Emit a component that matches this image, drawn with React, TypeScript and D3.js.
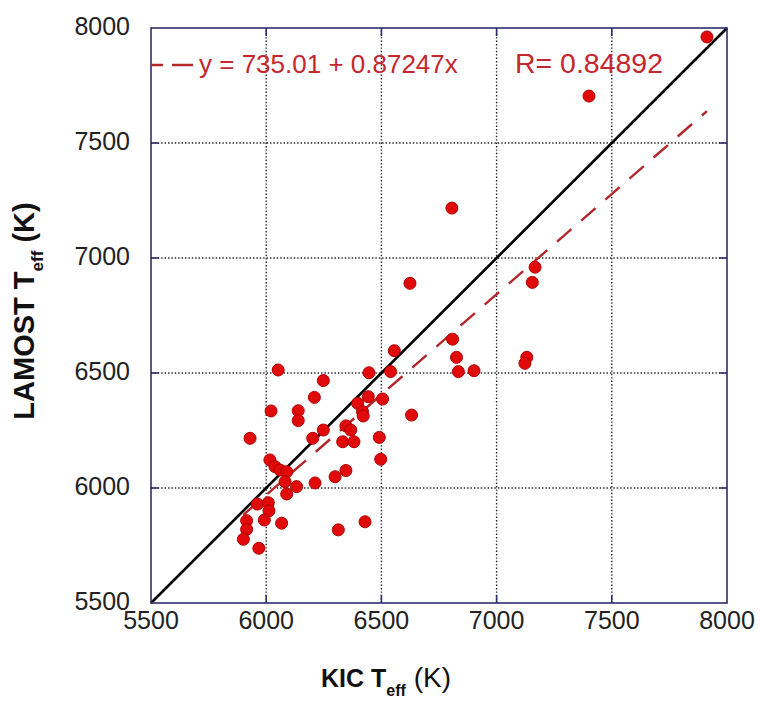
import React from 'react';
import * as d3 from 'd3';

// KIC Teff (x) and LAMOST Teff (y) for each star
const kicTeff = [
  7913, 7401, 6806, 7167, 7155, 6624, 6809, 6826, 6834, 6902, 7131, 7123,
  6556, 6446, 6540, 6052, 6248, 6209, 6443, 6505, 6397, 6418, 6421, 6631,
  6021, 6139, 6139, 6346, 6367, 6248, 6202, 5930, 6332, 6381, 6491, 6497,
  6016, 6038, 6060, 6089, 6346, 6299, 6082, 6132, 6212, 6089, 5962, 6009,
  6012, 5992, 6067, 5915, 5915, 5901, 5968, 6313, 6429,
];
const lamostTeff = [
  7961, 7704, 7217, 6960, 6894, 6890, 6647, 6568, 6506, 6510, 6568, 6542,
  6597, 6501, 6506, 6513, 6467, 6394, 6397, 6387, 6368, 6332, 6313, 6317,
  6335, 6336, 6293, 6270, 6252, 6252, 6216, 6216, 6201, 6201, 6220, 6125,
  6122, 6093, 6078, 6071, 6076, 6049, 6027, 6006, 6022, 5974, 5930, 5936,
  5901, 5861, 5847, 5858, 5820, 5777, 5738, 5818, 5853,
];

const xTicks = [5500, 6000, 6500, 7000, 7500, 8000];
const yTicks = [5500, 6000, 6500, 7000, 7500, 8000];
const axisDomain = [5500, 8000];

const fitIntercept = 735.01;
const fitSlope = 0.87247;
const fitR = 0.84892;

const FONT = '"Liberation Sans", Arial, Helvetica, sans-serif';
const FRAME = '#2e2e6e';
const FIT_COLOR = '#b3262a';
const TEXT_RED = '#c4262e';

export default function App() {
  const W = 760;
  const H = 706;
  const x = d3.scaleLinear().domain(axisDomain).range([151, 727]);
  const y = d3.scaleLinear().domain(axisDomain).range([603, 28]);
  const [x0, x1] = x.range();
  const [y0, y1] = y.range();

  const points = kicTeff.map((k, i) => ({ k, l: lamostTeff[i] }));
  const fitXMin = d3.min(kicTeff) as number;
  const fitXMax = d3.max(kicTeff) as number;
  const fit = (v: number) => fitIntercept + fitSlope * v;
  const lineGen = d3.line<[number, number]>().x(d => x(d[0])).y(d => y(d[1]));
  const fitPath = lineGen([[fitXMin, fit(fitXMin)], [fitXMax, fit(fitXMax)]]) as string;
  const idPath = lineGen([[axisDomain[0], axisDomain[0]], [axisDomain[1], axisDomain[1]]]) as string;

  const tickLen = 8;

  return (
    <svg width={W} height={H} style={{ position: 'absolute', left: 0, top: 0, background: '#fff' }}
      fontFamily={FONT}>
      <rect x={0} y={0} width={W} height={H} fill="#fff" />
      {/* grid */}
      <g stroke="#222" strokeWidth={1.4} strokeDasharray="1.4,2">
        {xTicks.slice(1, -1).map(t => (
          <line key={'gx' + t} x1={x(t)} x2={x(t)} y1={y0} y2={y1} />
        ))}
        {yTicks.slice(1, -1).map(t => (
          <line key={'gy' + t} x1={x0} x2={x1} y1={y(t)} y2={y(t)} />
        ))}
      </g>
      {/* ticks (inward on all sides) */}
      <g stroke={FRAME} strokeWidth={1.6}>
        {xTicks.slice(1, -1).map(t => (
          <g key={'tx' + t}>
            <line x1={x(t)} x2={x(t)} y1={y0} y2={y0 - tickLen} />
            <line x1={x(t)} x2={x(t)} y1={y1} y2={y1 + tickLen} />
          </g>
        ))}
        {yTicks.slice(1, -1).map(t => (
          <g key={'ty' + t}>
            <line x1={x0} x2={x0 + tickLen} y1={y(t)} y2={y(t)} />
            <line x1={x1} x2={x1 - tickLen} y1={y(t)} y2={y(t)} />
          </g>
        ))}
      </g>
      {/* identity line */}
      <path d={idPath} stroke="#000" strokeWidth={2.6} fill="none" />
      {/* fit line */}
      <path d={fitPath} stroke={FIT_COLOR} strokeWidth={2.4} fill="none" strokeDasharray="19,13" />
      {/* points */}
      <g>
        {points.map((p, i) => (
          <circle key={i} cx={x(p.k)} cy={y(p.l)} r={6} fill="#e00a0a" stroke="#b00000" strokeWidth={1} />
        ))}
      </g>
      {/* frame */}
      <rect x={x0} y={y1} width={x1 - x0} height={y0 - y1} fill="none" stroke={FRAME} strokeWidth={1.6} />
      {/* tick labels */}
      <g fontSize={25} fill="#222">
        {xTicks.map(t => (
          <text key={'lx' + t} x={x(t)} y={y0 + 26} textAnchor="middle">{t}</text>
        ))}
        {yTicks.map(t => (
          <text key={'ly' + t} x={x0 - 21} y={y(t) - 2} dy="0.35em" textAnchor="end">{t}</text>
        ))}
      </g>
      {/* legend */}
      <line x1={x0} x2={x0 + 42} y1={65} y2={65} stroke={FIT_COLOR} strokeWidth={2.4} strokeDasharray="12,9,21,0" />
      <text x={199} y={73} fontSize={26} fill={TEXT_RED}>
        {`y = ${fitIntercept.toFixed(2)} + ${fitSlope}x`}
      </text>
      <text x={515} y={73} fontSize={27} fill={TEXT_RED} textLength={148} lengthAdjust="spacingAndGlyphs">
        {`R= ${fitR}`}
      </text>
      {/* x axis title */}
      <text x={386} y={687} textAnchor="middle" fill="#111">
        <tspan fontWeight="bold" fontSize={25}>KIC T</tspan>
        <tspan fontWeight="bold" fontSize={16} dy={9}>eff</tspan>
        <tspan fontSize={28} dy={-9}>{' (K)'}</tspan>
      </text>
      {/* y axis title */}
      <text transform="translate(34,311) rotate(-90)" textAnchor="middle" fill="#111" fontWeight="bold">
        <tspan fontSize={29}>LAMOST T</tspan>
        <tspan fontSize={17} dy={9}>eff</tspan>
        <tspan fontSize={29} dy={-9}>{' (K)'}</tspan>
      </text>
    </svg>
  );
}
